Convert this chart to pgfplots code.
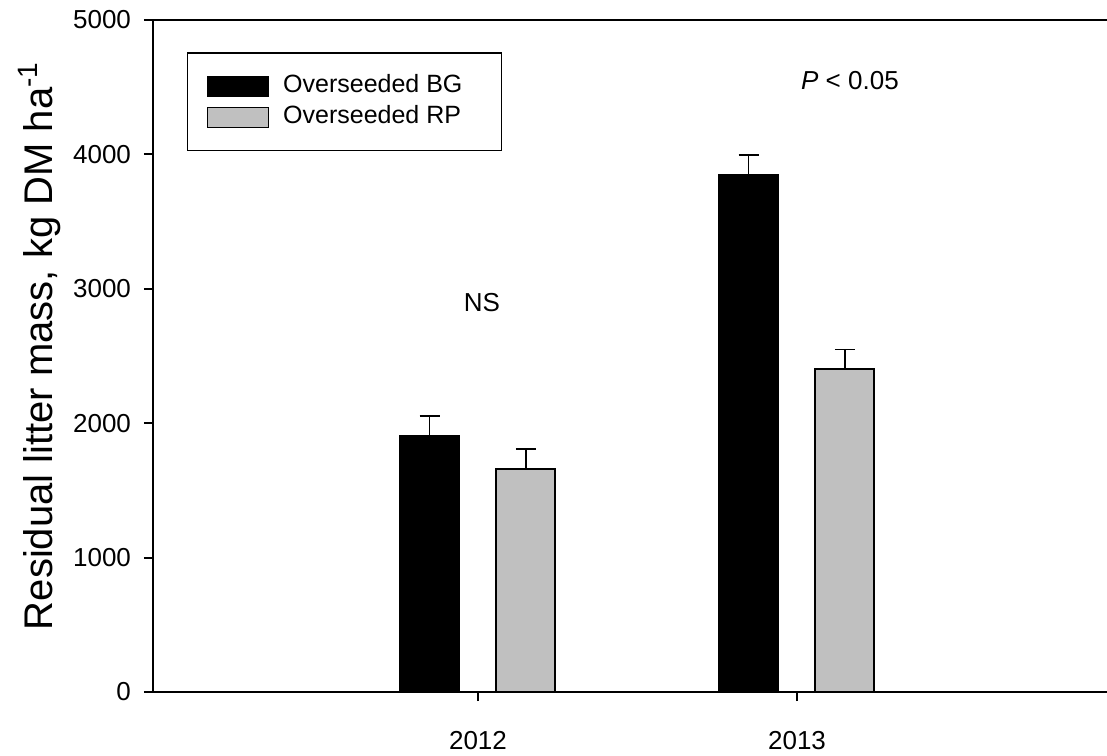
\documentclass[border=0pt]{standalone}
\usepackage{pgfplots}
\pgfplotsset{compat=1.18}
\usepackage{fontspec}
\setmainfont{Liberation Sans}
\usetikzlibrary{calc}
\definecolor{rpgray}{RGB}{192,192,192}
\newcommand{\fs}{\fontsize{12.5}{15}\selectfont}
\begin{document}
\begin{tikzpicture}[font=\fs]
\begin{axis}[
  scale only axis, width=477pt, height=336pt,
  xmin=-1.0188, xmax=1.9718, ymin=0, ymax=5000,
  axis x line*=bottom, axis y line*=left,
  axis line style={line width=1pt, -},
  xtick={0,1}, xticklabels={2012,2013},
  ytick={0,1000,2000,3000,4000,5000},
  tick align=outside, tick style={black, line width=1pt}, major tick length=4.5pt,
  /pgf/number format/assume math mode=true,
  /pgf/number format/1000 sep={},
  tick label style={font=\fontsize{13}{15}\selectfont},
  xticklabel style={yshift=-11.5pt},
  yticklabel style={xshift=-3pt},
  ylabel={Residual litter mass, kg DM ha\textsuperscript{-1}},
  ylabel style={font=\fontsize{20}{24}\selectfont, at={(axis description cs:-0.105,0.515)}, anchor=base},
  legend style={font=\fs, at={(axis description cs:0.0356,0.952)}, anchor=north west, draw=black, line width=0.75pt, inner xsep=9.5pt, inner ysep=11pt, row sep=4.25pt, nodes={inner sep=0pt, text height=8.75pt, text depth=2.5pt},
    /tikz/every odd column/.append style={column sep=7pt}},
  legend cell align=left,
  legend image code/.code={\draw[#1] (0pt,-5pt) rectangle (30.5pt,5pt);},
  clip=false,
]
\addplot[ybar, bar width=0.185, bar shift=0pt, fill=black, draw=black, line width=0.75pt, forget plot,
  error bars/.cd, y dir=plus, y explicit,
  error bar style={line width=0.9pt, black},
  error mark options={rotate=90, mark size=5pt, line width=0.9pt, black}]
  coordinates {(-0.152,1910) +- (0,145) (0.848,3850) +- (0,145)};
\addplot[ybar, bar width=0.185, bar shift=0pt, fill=rpgray, draw=black, line width=1pt, forget plot,
  error bars/.cd, y dir=plus, y explicit,
  error bar style={line width=0.9pt, black},
  error mark options={rotate=90, mark size=5pt, line width=0.9pt, black}]
  coordinates {(0.15,1660) +- (0,150) (1.15,2400) +- (0,148)};
\addlegendimage{fill=black, draw=black, line width=0.75pt}
\addlegendentry{Overseeded BG\kern10pt}
\addlegendimage{fill=rpgray, draw=black, line width=0.75pt}
\addlegendentry{Overseeded RP\kern10pt}
\draw[line width=1pt] (rel axis cs:0,1) -- (rel axis cs:1,1);
\node[font=\fontsize{13}{15}\selectfont] at (axis cs:0.012,2900) {NS};
\node[font=\fontsize{13}{15}\selectfont] at (axis cs:1.166,4550) {\textit{P} < 0.05};
\end{axis}
\pgfresetboundingbox
\useasboundingbox ($(current axis.south west)+(-76.5pt,-31.5pt)$) rectangle ($(current axis.north east)+(0pt,10pt)$);
\end{tikzpicture}
\end{document}
